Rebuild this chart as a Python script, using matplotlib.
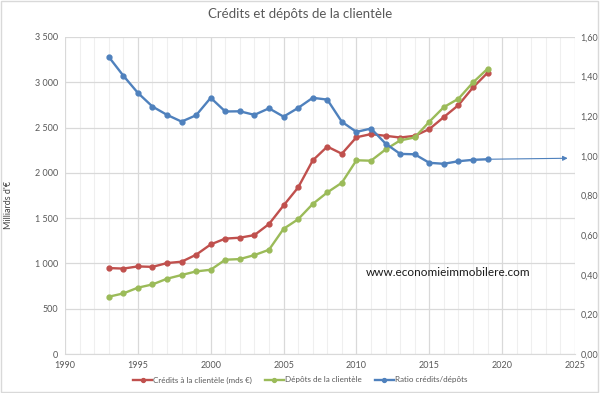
import matplotlib
matplotlib.use("Agg")
import matplotlib.pyplot as plt
from matplotlib.ticker import FuncFormatter, MultipleLocator
from matplotlib.patches import Rectangle

plt.rcParams['font.family'] = ['Lato', 'DejaVu Sans']

years = list(range(1993, 2020))
credits = [949, 943, 967, 962, 1004, 1019, 1096, 1210, 1274, 1284, 1313, 1435,
           1640, 1839, 2137, 2290, 2211, 2393, 2428, 2409, 2390, 2409, 2483,
           2616, 2748, 2943, 3105]
depots = [632, 669, 732, 768, 831, 872, 912, 930, 1041, 1048, 1092, 1151,
          1382, 1488, 1656, 1784, 1891, 2139, 2134, 2258, 2358, 2391, 2564,
          2726, 2818, 2998, 3149]
ratio = [1.50, 1.405, 1.318, 1.249, 1.207, 1.173, 1.205, 1.293, 1.224, 1.225,
         1.207, 1.240, 1.198, 1.242, 1.293, 1.284, 1.172, 1.121, 1.138, 1.062,
         1.010, 1.008, 0.965, 0.960, 0.973, 0.980, 0.983]
arrow_end_year = 2024.5
arrow_end_ratio = 0.988

title = "Crédits et dépôts de la clientèle"
labels = ["Crédits à la clientèle (mds €)", "Dépôts de la clientèle", "Ratio crédits/dépôts"]
ylabel = "Milliards d'€"
watermark = "www.economieimmobilere.com"

c_red = "#C0504D"
c_green = "#9BBB59"
c_blue = "#4F81BD"
grid_major = "#D9D9D9"
grid_minor = "#EFEFEF"
txt = "#595959"

fig = plt.figure(figsize=(6.0, 3.93), dpi=100)
ax = fig.add_axes([65/600, 1-354/393, 510/600, 317/393])
ax2 = ax.twinx()

ax.set_xlim(1990, 2025)
ax.set_ylim(0, 3500)
ax2.set_ylim(0, 1.6)

ax.xaxis.set_major_locator(MultipleLocator(5))
ax.xaxis.set_minor_locator(MultipleLocator(1))
ax.yaxis.set_major_locator(MultipleLocator(500))
ax2.yaxis.set_major_locator(MultipleLocator(0.2))

ax.grid(True, which='major', axis='x', color=grid_major, lw=0.9)
ax.grid(True, which='minor', axis='x', color=grid_minor, lw=0.8)
ax.grid(True, which='major', axis='y', color=grid_major, lw=0.9)
ax.set_axisbelow(True)

for a in (ax, ax2):
    for s in a.spines.values():
        s.set_visible(False)
ax.spines['bottom'].set_visible(True)
ax.spines['bottom'].set_color(grid_major)

ax.yaxis.set_major_formatter(FuncFormatter(lambda v, p: f"{int(v):,}".replace(",", " ")))
ax2.yaxis.set_major_formatter(FuncFormatter(lambda v, p: f"{v:.2f}".replace(".", ",")))

ax.tick_params(axis='both', which='both', length=0, labelsize=6.5, labelcolor=txt)
ax.tick_params(axis='y', pad=5)
ax.tick_params(axis='x', pad=5)
ax2.tick_params(axis='y', length=0, labelsize=6.5, labelcolor=txt, pad=4)

lw = 1.7
ms = 3.5
l1, = ax.plot(years, credits, color=c_red, lw=lw, marker='o', ms=ms, label=labels[0])
l2, = ax.plot(years, depots, color=c_green, lw=lw, marker='o', ms=ms, label=labels[1])
l3, = ax2.plot(years, ratio, color=c_blue, lw=lw, marker='o', ms=ms, label=labels[2])

ax2.annotate("", xy=(arrow_end_year, arrow_end_ratio), xytext=(years[-1], ratio[-1]),
             arrowprops=dict(arrowstyle='-|>', color=c_blue, lw=0.8,
                             mutation_scale=7, shrinkA=0, shrinkB=0))

fig.text(9/600, 1-205/393, ylabel, rotation=90, ha='center', va='center',
         fontsize=6.5, color="#404040")

fig.text(0.5, 1-14/393, title, ha='center', va='center', fontsize=9.5, color=txt)
fig.text(448/600, 1-272/393, watermark, ha='center', va='center', fontsize=8.5, color="#1a1a1a")

fig.legend(handles=[l1, l2, l3], loc='center', bbox_to_anchor=(0.5, 1-380/393),
           ncol=3, frameon=False, prop={'size': 5.8}, labelcolor=txt,
           handlelength=2.4, handletextpad=0.1, columnspacing=1.6, markerscale=0.8)

fig.patches.append(Rectangle((0.002, 0.003), 0.995, 0.994, transform=fig.transFigure,
                             fill=False, edgecolor="#D9D9D9", lw=1))

fig.savefig("out.png", dpi=100)
